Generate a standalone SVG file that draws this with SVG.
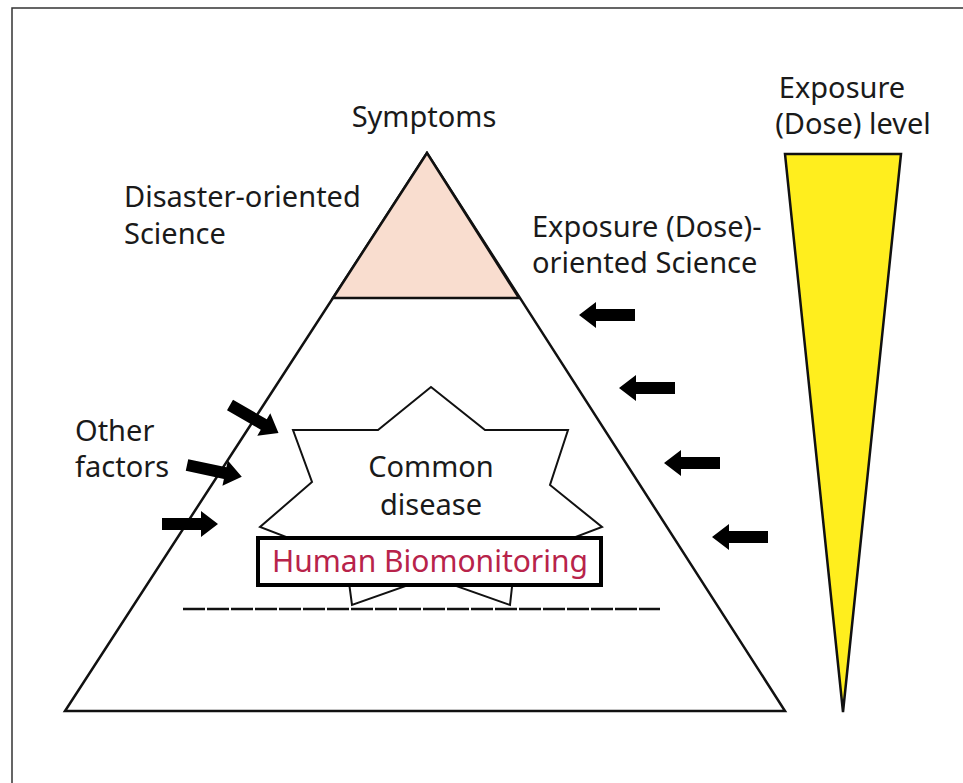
<svg xmlns="http://www.w3.org/2000/svg" width="963" height="783" viewBox="0 0 963 783">
  <style>
    .lbl { font-family: "Noto Sans", "DejaVu Sans", sans-serif; font-size: 29px; fill: #1a1a1a; }
    .ctr { text-anchor: middle; }
  </style>
  <defs>
    <!-- block arrow pointing right, tail at origin -->
    <path id="arrow" d="M0,-6 H39 V-13 L56,0 L39,13 V6 H0 Z" fill="#000"/>
  </defs>

  <rect width="963" height="783" fill="#fff"/>
  <!-- page frame -->
  <rect x="12" y="8" width="970" height="800" fill="none" stroke="#333" stroke-width="1.5"/>

  <!-- main pyramid -->
  <g id="pyramid">
    <polygon points="427,153 65,711 785,711" fill="#fff" stroke="#111" stroke-width="2.5"/>
  </g>

  <!-- top section of the pyramid -->
  <g id="symptoms-tip">
    <polygon points="427,153 333,298 519,298" fill="#F9DDCF" stroke="#111" stroke-width="2.5"/>
  </g>

  <!-- common disease star -->
  <g id="common-disease">
    <polygon points="431,387 485,430 568,430 550,485 602,527 515,560 510,605 431,577 352,605 346,560 260,527 312,482 293,430 378,430" fill="#fff" stroke="#111" stroke-width="2"/>
    <text class="lbl ctr" x="431" y="477">Common</text>
    <text class="lbl ctr" x="431" y="515">disease</text>
  </g>

  <!-- biomonitoring box -->
  <g id="human-biomonitoring">
    <rect x="258" y="538" width="343" height="47" fill="#fff" stroke="#000" stroke-width="4"/>
    <text class="lbl ctr" x="430" y="572" style="fill:#B8234A;font-size:30px">Human Biomonitoring</text>
  </g>

  <!-- exposure level wedge -->
  <g id="exposure-level">
    <polygon points="785,154 901,154 843,712" fill="#FFEE1E" stroke="#111" stroke-width="2.5"/>
    <text class="lbl ctr" x="842" y="98">Exposure</text>
    <text class="lbl ctr" x="853" y="134">(Dose) level</text>
  </g>

  <!-- labels -->
  <g id="symptoms-label">
    <text class="lbl ctr" x="424" y="127">Symptoms</text>
  </g>
  <g id="disaster-label">
    <text class="lbl" x="124" y="207">Disaster-oriented</text>
    <text class="lbl" x="124" y="244">Science</text>
  </g>
  <g id="exposure-label">
    <text class="lbl" x="532" y="237">Exposure (Dose)-</text>
    <text class="lbl" x="532" y="273">oriented Science</text>
  </g>
  <g id="other-factors-label">
    <text class="lbl" x="75" y="441">Other</text>
    <text class="lbl" x="75" y="477">factors</text>
  </g>

  <!-- baseline under the star -->
  <line x1="183" y1="609" x2="660" y2="609" stroke="#111" stroke-width="2.5" stroke-dasharray="22 2"/>

  <!-- connectors: influence arrows -->
  <g id="connectors">
    <use href="#arrow" transform="translate(230,405) rotate(30)"/>
    <use href="#arrow" transform="translate(187,465) rotate(12)"/>
    <use href="#arrow" transform="translate(162,524)"/>
    <use href="#arrow" transform="translate(635,315) rotate(180)"/>
    <use href="#arrow" transform="translate(675,388) rotate(180)"/>
    <use href="#arrow" transform="translate(720,463) rotate(180)"/>
    <use href="#arrow" transform="translate(768,537) rotate(180)"/>
  </g>
</svg>
